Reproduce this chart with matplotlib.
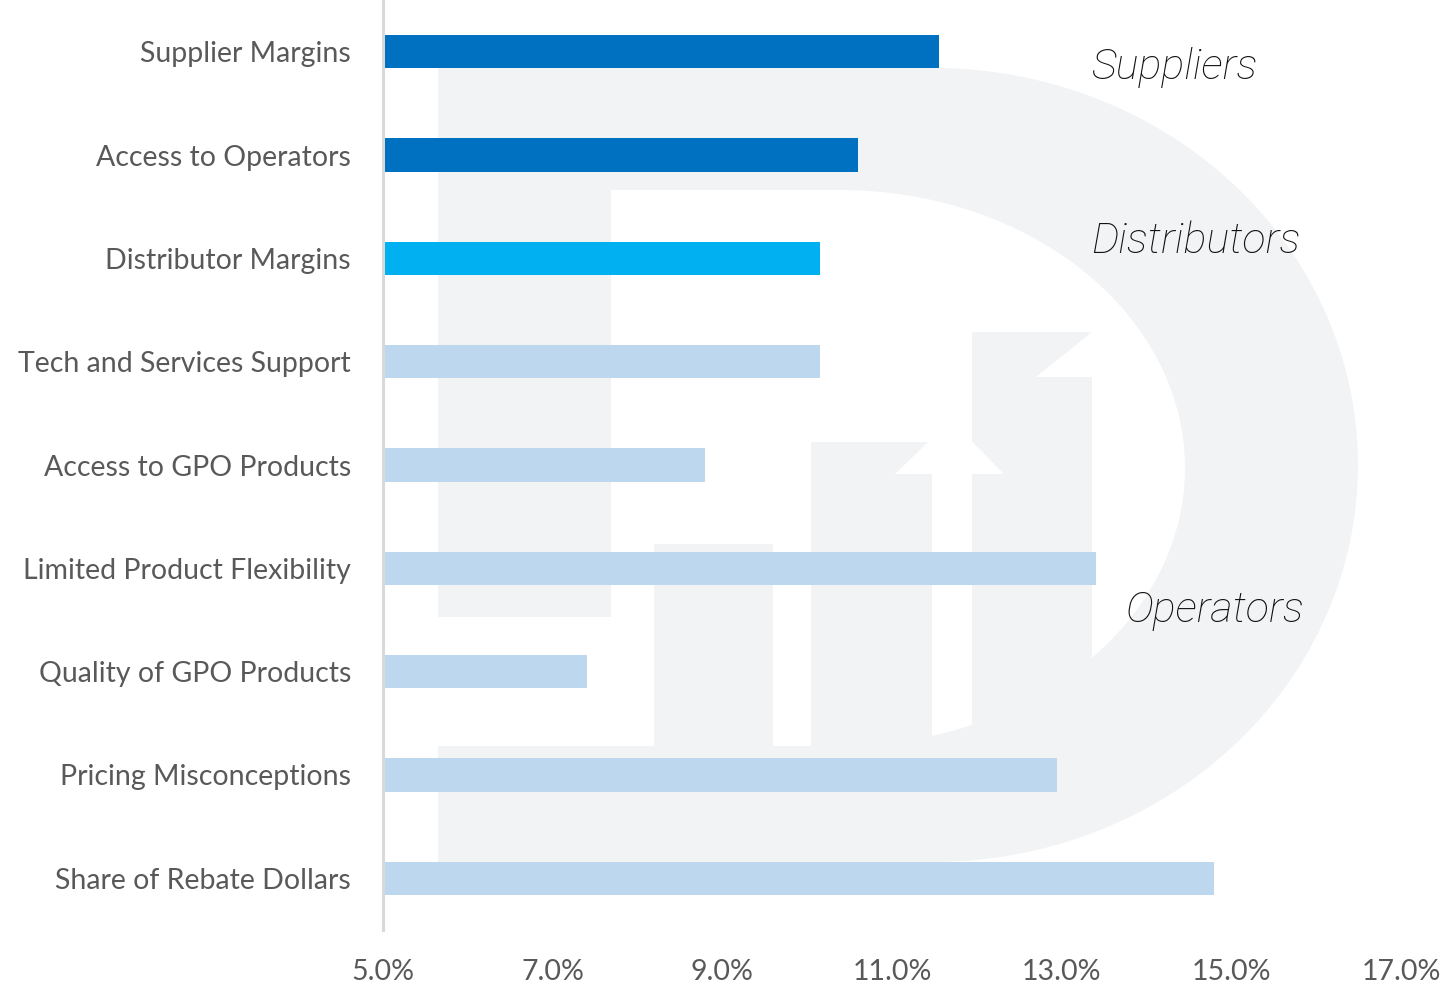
import numpy as np
import matplotlib
matplotlib.use('Agg')
from matplotlib import pyplot as plt
from matplotlib.patches import Polygon
from matplotlib.transforms import Affine2D

categories = ['Supplier Margins', 'Access to Operators', 'Distributor Margins',
              'Tech and Services Support', 'Access to GPO Products',
              'Limited Product Flexibility', 'Quality of GPO Products',
              'Pricing Misconceptions', 'Share of Rebate Dollars']
values = [11.55, 10.6, 10.15, 10.15, 8.8, 13.4, 7.4, 12.95, 14.8]
groups = ['Suppliers', 'Suppliers', 'Distributors', 'Operators', 'Operators',
          'Operators', 'Operators', 'Operators', 'Operators']
group_colors = {'Suppliers': '#0070C0', 'Distributors': '#00B0F0', 'Operators': '#BDD7EE'}
xticks = [5, 7, 9, 11, 13, 15, 17]
group_labels = ['Suppliers', 'Distributors', 'Operators']
group_label_pos = [(13.35, 0.26), (13.35, 1.95), (13.76, 5.52)]

W, H = 1445, 990
fig = plt.figure(figsize=(W / 100, H / 100), dpi=100)
ax = fig.add_axes([383 / W, 60 / H, (1401 - 383) / W, 930 / H])
ax.patch.set_alpha(0)

# faint logo watermark behind the chart (pixel coords, from top)
px = Affine2D().scale(1.0 / W, -1.0 / H).translate(0, 1) + fig.transFigure
wm = '#F2F3F5'
def blob(pts, color):
    fig.add_artist(Polygon(pts, closed=True, transform=px, facecolor=color,
                           edgecolor='none', zorder=-5))

t = np.linspace(-np.pi / 2, np.pi / 2, 120)
outer = [(438, 68)] + list(zip(933 + 425 * np.cos(t), 465 + 397 * np.sin(t))) + [(438, 862)]
blob(outer, wm)
hole = [(611, 190)] + list(zip(840 + 345 * np.cos(t), 468 + 278 * np.sin(t))) + \
       [(438, 746), (438, 617), (611, 617)]
blob(hole, 'white')
blob([(654, 544), (773, 544), (773, 746), (654, 746)], wm)
blob([(811, 442), (932, 442), (932, 746), (811, 746)], wm)
blob([(972, 332), (1092, 332), (1092, 746), (972, 746)], wm)
blob([(895, 474), (1004, 474), (951, 420)], 'white')
blob([(1092, 332), (1036, 377), (1092, 377)], 'white')

y = np.arange(len(categories))
colors = [group_colors[g] for g in groups]
ax.barh(y, values, height=0.32, color=colors, zorder=2)

ax.set_xlim(5, 17)
ax.set_ylim(len(categories) - 0.5, -0.5)
ax.set_yticks(y)
ax.set_yticklabels(categories, fontname='Lato', fontsize=20.5, color='#595959')
ax.set_xticks(xticks)
ax.set_xticklabels(['%.1f%%' % v for v in xticks], fontname='Lato', fontsize=20.5, color='#595959')
ax.tick_params(axis='y', length=0, pad=23)
ax.tick_params(axis='x', length=0, pad=21)

for s in ['top', 'right', 'bottom']:
    ax.spines[s].set_visible(False)
ax.spines['left'].set_color('#D9D9D9')
ax.spines['left'].set_linewidth(2.2)
ax.spines['left'].set_zorder(3)

for lab, (lx, ly) in zip(group_labels, group_label_pos):
    ax.text(lx, ly, lab, fontname='Roboto', fontweight='light', style='italic',
            fontsize=31, color='#111111', va='baseline', ha='left')

fig.savefig('out.png', dpi=100)
